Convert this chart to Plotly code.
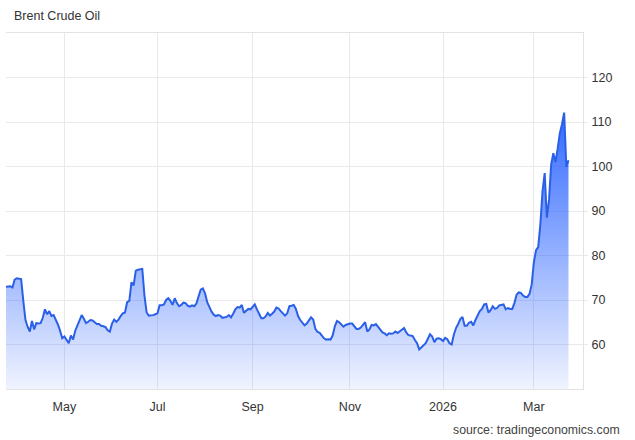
import pandas as pd
import plotly.graph_objects as go

# ---- data (daily Brent closes, business days) ----
start_date = "2025-03-25"
brent_close = [
    73.0, 73.0, 73.1, 72.8, 74.6, 74.9, 74.8, 74.7, 69.8, 65.5,
    64.0, 62.9, 65.3, 63.4, 64.8, 64.7, 64.8, 66.0, 67.9, 66.8,
    67.5, 66.4, 66.6, 65.6, 64.5, 63.1, 61.4, 61.8, 61.0, 60.3,
    62.0, 61.1, 63.1, 64.2, 65.4, 66.6, 65.8, 64.8, 65.1, 65.5,
    65.4, 65.0, 64.6, 64.6, 64.2, 64.1, 63.9, 63.2, 62.9, 64.7,
    65.6, 65.1, 65.6, 66.4, 67.0, 67.2, 69.5, 69.8, 74.0, 73.3,
    76.6, 76.8, 76.9, 77.0, 71.0, 67.2, 66.5, 66.5, 66.6, 66.8,
    67.0, 68.8, 68.8, 69.0, 70.0, 70.4, 69.8, 68.9, 70.4, 69.3,
    68.6, 68.9, 69.4, 69.3, 68.7, 68.5, 68.8, 68.6, 69.2, 70.8,
    72.3, 72.6, 71.5, 69.5, 68.4, 67.4, 66.7, 66.4, 66.6, 66.5,
    66.0, 66.1, 66.2, 66.6, 66.1, 66.9, 67.9, 68.4, 68.3, 68.9,
    67.1, 67.6, 68.0, 67.9, 68.5, 69.0, 67.9, 66.9, 65.9, 65.9,
    66.3, 67.1, 66.5, 66.9, 67.4, 68.3, 68.1, 67.5, 66.9, 66.5,
    67.0, 68.6, 68.7, 68.9, 68.0, 66.4, 65.5, 64.8, 64.3, 64.7,
    65.5, 66.1, 65.6, 63.5, 62.8, 62.6, 62.0, 61.4, 61.1, 61.2,
    61.1, 62.0, 64.1, 65.3, 65.0, 64.5, 64.0, 64.4, 64.6, 64.7,
    64.7, 64.1, 63.5, 63.5, 63.8, 64.4, 65.0, 62.9, 63.4, 64.4,
    64.3, 64.6, 63.9, 63.3, 62.7, 62.5, 62.1, 62.5, 62.4, 62.5,
    62.9, 62.6, 62.9, 63.3, 63.7, 62.7, 62.1, 62.0, 61.9, 61.0,
    60.3, 58.9, 59.4, 59.8, 60.3, 61.3, 62.3, 61.8, 60.5, 61.3,
    61.4, 61.2, 60.8, 61.5, 61.2, 60.3, 60.0, 62.2, 63.7, 64.6,
    65.7, 66.2, 64.2, 64.2, 64.9, 65.1, 64.3, 65.5, 66.5, 67.5,
    68.0, 69.0, 69.1, 67.2, 67.7, 68.6, 68.0, 68.2, 68.8, 68.9,
    69.0, 67.9, 68.2, 68.0, 68.0, 69.3, 71.2, 71.7, 71.6, 71.0,
    70.7, 70.7, 71.4, 73.5, 78.5, 81.2, 81.9, 87.0, 94.5, 98.5,
    88.5, 92.5, 100.5, 103.0, 101.0, 104.0, 107.5, 109.5, 112.1, 99.9,
    101.4,
]
month_ticks = ["2025-05-01", "2025-07-01", "2025-09-01", "2025-11-03", "2026-01-01", "2026-03-02"]
month_labels = ["May", "Jul", "Sep", "Nov", "2026", "Mar"]
price_ticks = [60, 70, 80, 90, 100, 110, 120]
price_labels = ["60", "70", "80", "90", "100", "110", "120"]

title_text = "Brent Crude Oil"
source_text = "source: tradingeconomics.com"

dates = pd.bdate_range(start_date, periods=len(brent_close))

FONT = "Liberation Sans, Arial, Helvetica, sans-serif"
GRID = "#e9e9e9"

fig = go.Figure()
fig.add_trace(go.Scatter(
    x=dates, y=brent_close, mode="lines",
    line=dict(color="#2a5fe8", width=2),
    fill="tozeroy",
    fillgradient=dict(
        type="vertical", start=50, stop=112,
        colorscale=[[0, "rgba(41,98,255,0.07)"], [1, "rgba(41,98,255,0.95)"]],
    ),
    hoverinfo="skip", showlegend=False,
))

fig.update_layout(
    width=635, height=440,
    margin=dict(l=6, r=52, t=33, b=51),
    paper_bgcolor="white", plot_bgcolor="white",
    font=dict(family=FONT, size=12.5, color="#333333"),
    xaxis=dict(
        type="date",
        range=[start_date, "2026-04-01 17:00"],
        rangebreaks=[dict(bounds=["sat", "mon"])],
        tickmode="array", tickvals=month_ticks, ticktext=month_labels,
        showgrid=True, gridcolor=GRID, gridwidth=1,
        showline=True, linecolor="#e3e3e3", linewidth=1, mirror=True,
        ticks="", zeroline=False,
        tickfont=dict(family=FONT, size=12.5, color="#333333"),
        ticklabelstandoff=6,
    ),
    yaxis=dict(
        side="right", range=[50, 130],
        tickmode="array", tickvals=price_ticks, ticktext=price_labels,
        showgrid=True, gridcolor=GRID, gridwidth=1,
        showline=True, linecolor="#e3e3e3", linewidth=1,
        ticks="outside", ticklen=4, tickcolor=GRID,
        zeroline=False,
        tickfont=dict(family=FONT, size=12.5, color="#333333"),
        ticklabelstandoff=1,
    ),
    annotations=[
        dict(text=title_text, xref="paper", yref="paper",
             x=(12 - 6) / 577, y=(389 - 16.5) / 356,
             xanchor="left", yanchor="middle", showarrow=False,
             font=dict(family=FONT, size=12.5, color="#333333")),
        dict(text=source_text, xref="paper", yref="paper",
             x=(622 - 6) / 577, y=(389 - 429.5) / 356,
             xanchor="right", yanchor="middle", showarrow=False,
             font=dict(family=FONT, size=12.3, color="#444444")),
    ],
)

fig.write_html("out.html", config={"displayModeBar": False},
               post_script="document.body.style.margin='0';")
